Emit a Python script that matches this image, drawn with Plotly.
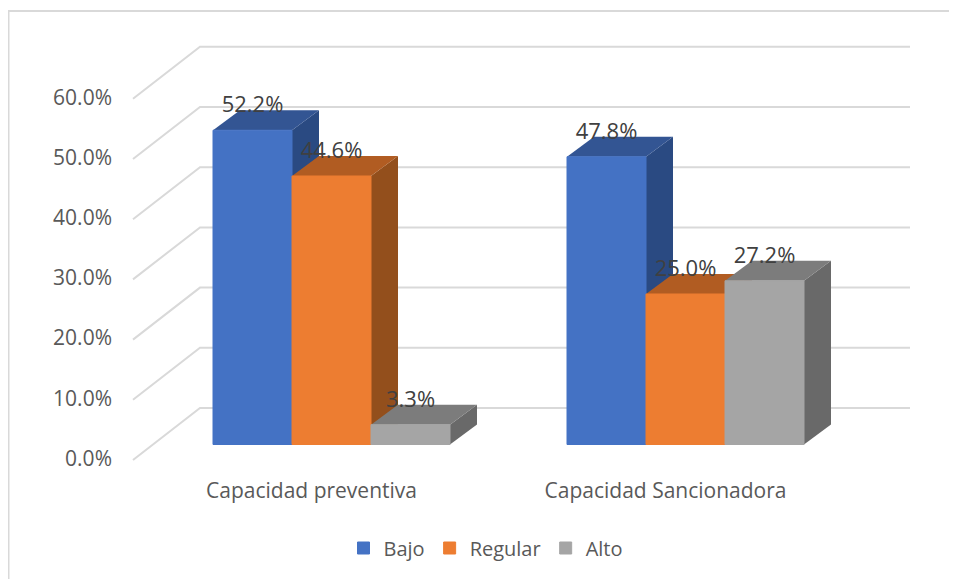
import plotly.graph_objects as go

# ---- data ----
categories = ["Capacidad preventiva", "Capacidad Sancionadora"]
series_names = ["Bajo", "Regular", "Alto"]
bajo = [52.2, 47.8]
regular = [44.6, 25.0]
alto = [3.3, 27.2]
tick_values = [0, 10, 20, 30, 40, 50, 60]

# ---- styling / geometry of the fake 3-D box (window pixels) ----
W, H = 957, 579
OFF = 8  # the browser page margin
PX_PER_UNIT = 6.02
BASE_PX = 444.5
group_left = [213, 567]
bar_w = 79
depth_x, depth_y = 27, 20 / PX_PER_UNIT
front_cols = ["#4472C4", "#ED7D31", "#A5A5A5"]
top_cols = ["#335593", "#B15C22", "#7C7C7C"]
side_cols = ["#2A4A82", "#934F1C", "#696969"]
grid_col = "#D9D9D9"
text_col = "#595959"
label_col = "#404040"
FONT = "Open Sans"
FS = 21

y_top = (BASE_PX - OFF) / PX_PER_UNIT
y_bot = (BASE_PX - H) / PX_PER_UNIT
x_rng = [OFF, W]
PW, PH = W - OFF, H - OFF
values = [bajo, regular, alto]


def px_x(p):
    return (p - OFF) / PW


def px_y(p):
    return 1 - (p - OFF) / PH


fig = go.Figure()

# walls: gridlines on the back wall and the left side wall
back_x0, back_x1, tip_x = 200, 910, 133
back_shift = (BASE_PX - 408) / PX_PER_UNIT
tip_shift = (BASE_PX - 460) / PX_PER_UNIT
gx, gy = [], []
for v in tick_values:
    gx += [tip_x, back_x0, back_x1, None]
    gy += [v + tip_shift, v + back_shift, v + back_shift, None]
fig.add_trace(go.Scatter(x=gx, y=gy, mode="lines", showlegend=False, hoverinfo="skip",
                         line=dict(color=grid_col, width=2)))

# top and side faces, computed from the values
for s, vals in enumerate(values):
    for g, v in enumerate(vals):
        x0 = group_left[g] + s * bar_w
        x1 = x0 + bar_w
        fig.add_trace(go.Scatter(
            x=[x1, x1 + depth_x, x1 + depth_x, x1, x1],
            y=[0, depth_y, v + depth_y, v, 0],
            mode="lines", fill="toself", fillcolor=side_cols[s],
            line=dict(width=0), showlegend=False, hoverinfo="skip"))
        fig.add_trace(go.Scatter(
            x=[x0, x1, x1 + depth_x, x0 + depth_x, x0],
            y=[v, v, v + depth_y, v + depth_y, v],
            mode="lines", fill="toself", fillcolor=top_cols[s],
            line=dict(width=0), showlegend=False, hoverinfo="skip"))

# front faces on an overlaying subplot so they cover the side faces
for s, vals in enumerate(values):
    xs = [group_left[g] + (s + 0.5) * bar_w for g in range(len(vals))]
    fig.add_trace(go.Bar(x=xs, y=vals, width=bar_w, name=series_names[s],
                         marker=dict(color=front_cols[s], line=dict(width=1, color=front_cols[s])),
                         xaxis="x2", yaxis="y2"))

# data labels
for s, vals in enumerate(values):
    xs = [group_left[g] + (s + 0.5) * bar_w for g in range(len(vals))]
    fig.add_trace(go.Scatter(x=xs, y=[v + 23.5 / PX_PER_UNIT for v in vals],
                             text=[f"{v:.1f}%" for v in vals], mode="text",
                             textfont=dict(family=FONT, size=22, color=label_col),
                             showlegend=False, hoverinfo="skip",
                             xaxis="x2", yaxis="y2"))

label_shift = (BASE_PX - 458.5) / PX_PER_UNIT
cat_pos = [group_left[g] + 1.5 * bar_w - 20 for g in range(len(categories))]
no_axis = dict(visible=False, fixedrange=True)

fig.update_layout(
    width=PW, height=PH, autosize=False,
    margin=dict(l=0, r=0, t=0, b=0),
    paper_bgcolor="white", plot_bgcolor="rgba(0,0,0,0)",
    barmode="overlay",
    font=dict(family=FONT, size=FS, color=text_col),
    xaxis=dict(range=x_rng, domain=[0, 1], **no_axis),
    yaxis=dict(range=[y_bot, y_top], domain=[0, 1], **no_axis),
    xaxis2=dict(range=x_rng, domain=[0, 1], overlaying="x", anchor="free",
                position=px_y(476), tickmode="array", tickvals=cat_pos, ticktext=categories,
                showgrid=False, zeroline=False, showline=False, ticks="",
                tickfont=dict(family=FONT, size=FS, color=text_col)),
    yaxis2=dict(range=[y_bot, y_top], domain=[0, 1], overlaying="y", visible=False),
    yaxis3=dict(range=[y_bot - label_shift, y_top - label_shift], domain=[0, 1],
                overlaying="y", anchor="free", position=px_x(112), side="left",
                tickmode="array", tickvals=tick_values,
                ticktext=[f"{v:.1f}%" for v in tick_values],
                showgrid=False, zeroline=False, showline=False, ticks="",
                tickfont=dict(family=FONT, size=FS, color=text_col)),
    legend=dict(orientation="h", x=px_x(486), xanchor="center", y=px_y(548), yanchor="middle",
                entrywidth=0, font=dict(family=FONT, size=20, color=text_col),
                itemclick=False, itemdoubleclick=False),
    shapes=[
        dict(type="line", xref="paper", yref="paper", x0=0, x1=1, y0=px_y(11), y1=px_y(11),
             line=dict(color=grid_col, width=2), layer="below"),
        dict(type="line", xref="paper", yref="paper", x0=0, x1=0, y0=0, y1=px_y(11),
             line=dict(color=grid_col, width=3), layer="below"),
    ],
)
# dummy trace so the label axis is drawn
fig.add_trace(go.Scatter(x=[None], y=[None], xaxis="x2", yaxis="y3", showlegend=False, hoverinfo="skip"))
fig.write_html("out.html", config=dict(displayModeBar=False))
